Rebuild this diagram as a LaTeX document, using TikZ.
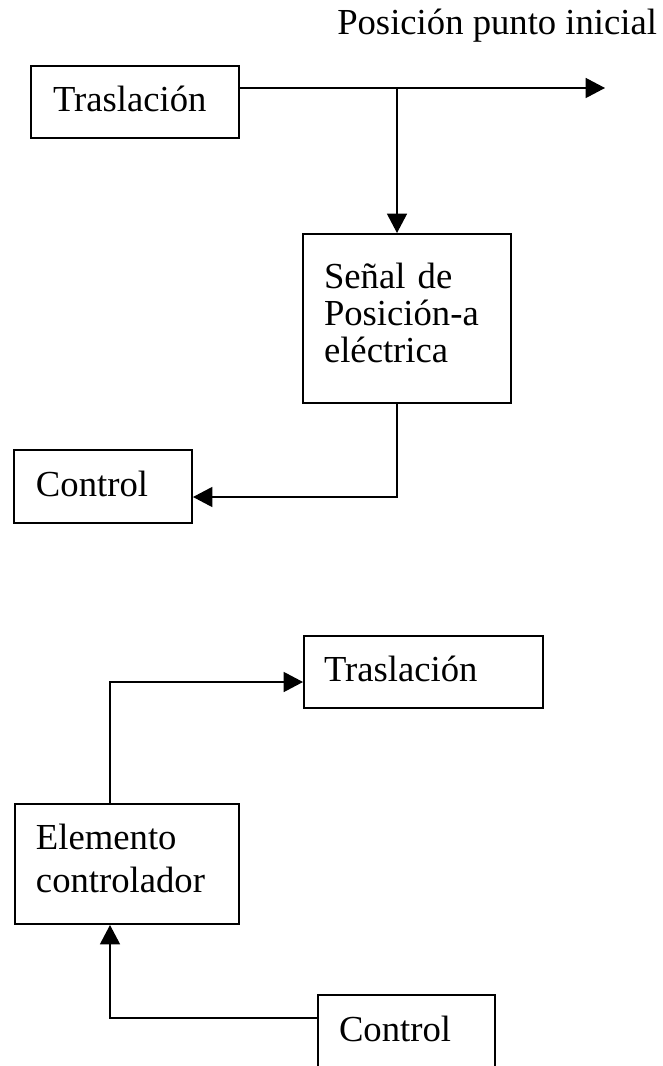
\documentclass[tikz,border=0pt]{standalone}
\usepackage{fontspec}
\setmainfont{Liberation Serif}
\usetikzlibrary{arrows.meta}
\begin{document}
\begin{tikzpicture}[x=0.75pt,y=-0.75pt,
  box/.style={draw, line width=1.5pt, rectangle, anchor=north west, inner ysep=0pt, align=left, font=\fontsize{27.5pt}{28pt}\selectfont},
  txt/.style={inner sep=0pt, font=\fontsize{27.5pt}{28pt}\selectfont},
  conn/.style={line width=1.1pt},
  arr/.style={conn, -{Triangle[length=14.5pt,width=15pt]}}]
\useasboundingbox (0,0) rectangle (663,1066);
\clip (0,0) rectangle (663,1066);
% top diagram
\node[txt, anchor=base west] (title) at (337,35) {Posición punto inicial};
\node[box, minimum width=156pt, minimum height=54pt, text width=123pt, inner xsep=16.5pt, text height=15pt, text depth=0pt] (t1) at (30,65) {Traslación};
\node[box, minimum width=156pt, minimum height=126.75pt, text width=124.5pt, inner xsep=15.75pt, text height=18.75pt, text depth=64.5pt, font=\fontsize{27.5pt}{28.1pt}\selectfont] (s) at (302,233) {Señal de\\Posición-a\\eléctrica};
\node[box, minimum width=133.5pt, minimum height=54.75pt, text width=100.5pt, inner xsep=16.5pt, text height=14.25pt, text depth=0pt] (c1) at (13,449) {Control};
\coordinate (tip) at (605,88);
\coordinate (j1) at (397,88);
\coordinate (k1) at (397,497);
\draw[arr] (t1.east |- tip) -- (tip);
\draw[arr] (j1) -- (j1 |- s.north);
\draw[arr] (s.south -| k1) -- (k1) -- (c1.east |- k1);
% bottom diagram
\node[box, minimum width=179.25pt, minimum height=54pt, text width=149.25pt, inner xsep=15pt, text height=13.5pt, text depth=0pt] (t2) at (303,635) {Traslación};
\node[box, minimum width=168pt, minimum height=90pt, text width=136.5pt, inner xsep=15.75pt, text height=18.75pt, text depth=41.25pt, font=\fontsize{27.5pt}{32.25pt}\selectfont] (e) at (14,803) {Elemento\\controlador};
\node[box, minimum width=132.75pt, minimum height=60pt, text width=101.25pt, inner xsep=15.75pt, text height=9pt, text depth=0pt] (c2) at (317,994) {Control};
\coordinate (k2) at (110,682);
\coordinate (k3) at (110,1018);
\draw[arr] (e.north -| k2) -- (k2) -- (t2.west |- k2);
\draw[arr] (c2.west |- k3) -- (k3) -- (k3 |- e.south);
\end{tikzpicture}
\end{document}
